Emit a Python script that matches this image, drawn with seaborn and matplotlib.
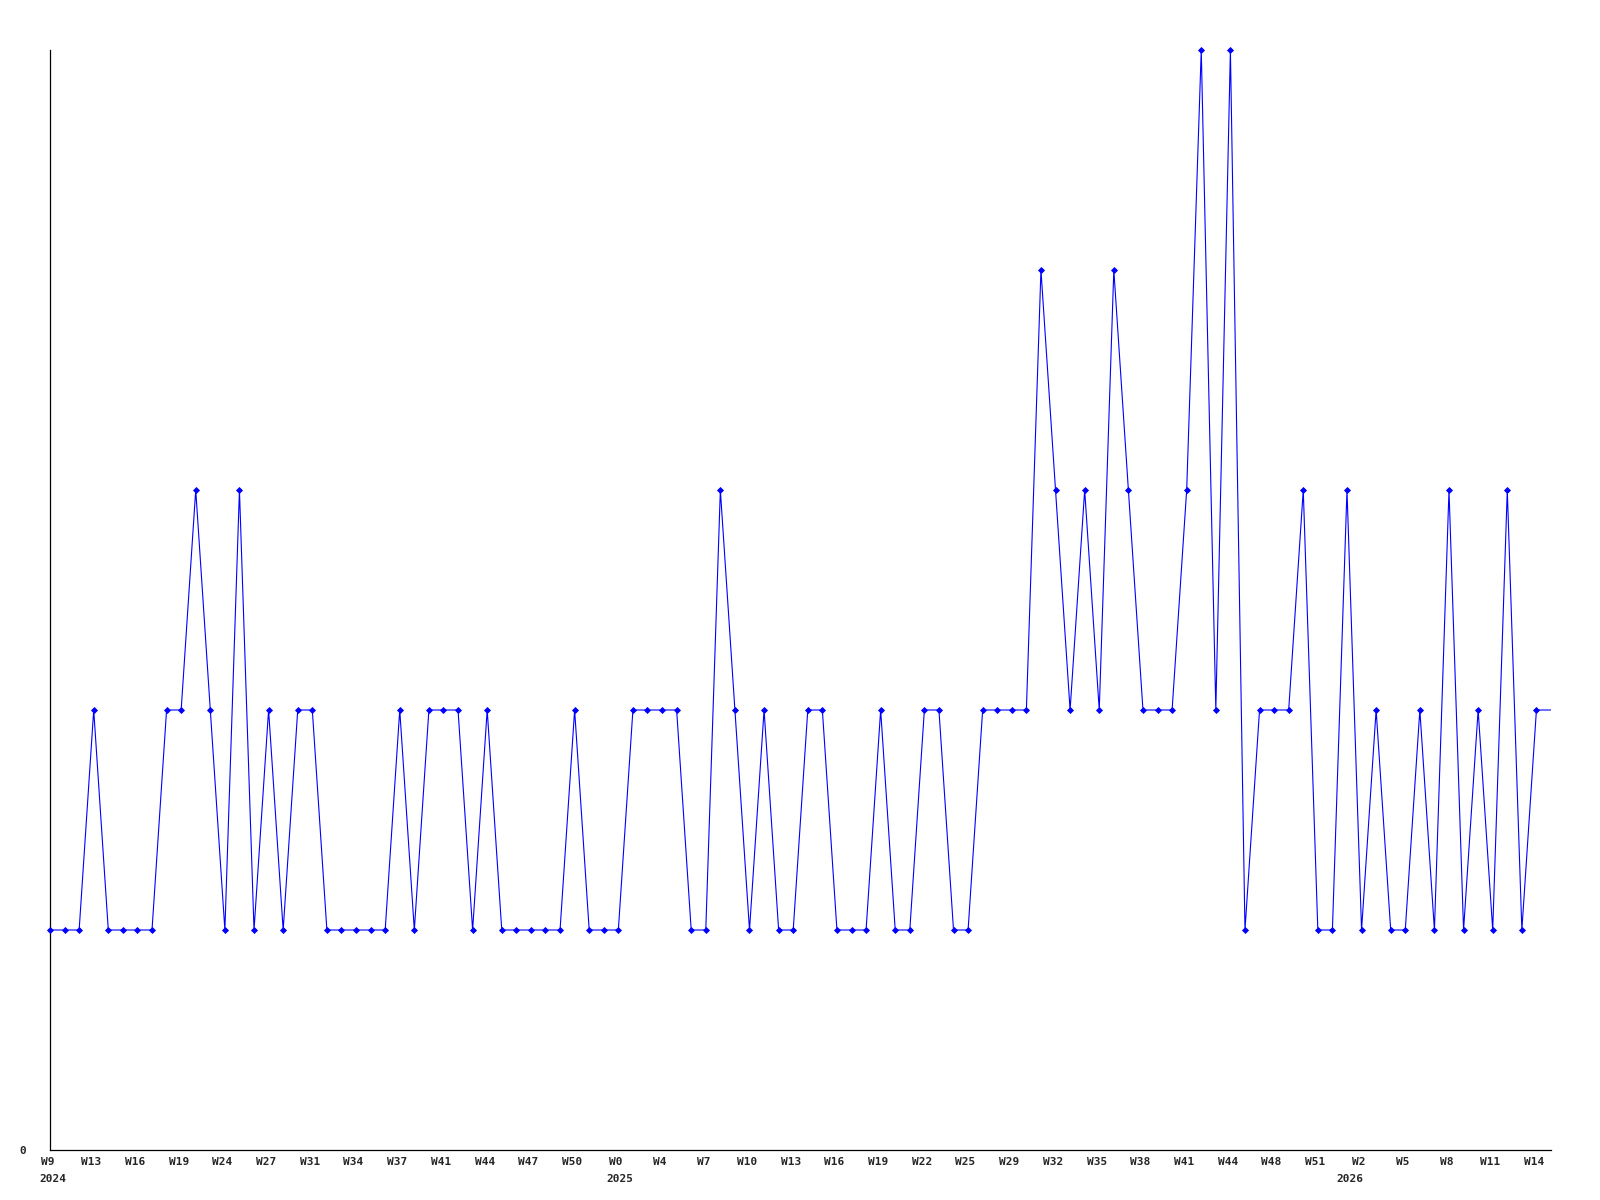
import numpy as np
import pandas as pd
import matplotlib
matplotlib.use("Agg")
import matplotlib.pyplot as plt
import matplotlib.transforms as mtransforms
import seaborn as sns

# weekly counts (last value only extends the line)
counts = [1, 1, 1, 2, 1, 1, 1, 1, 2, 2,
          3, 2, 1, 3, 1, 2, 1, 2, 2, 1,
          1, 1, 1, 1, 2, 1, 2, 2, 2, 1,
          2, 1, 1, 1, 1, 1, 2, 1, 1, 1,
          2, 2, 2, 2, 1, 1, 3, 2, 1, 2,
          1, 1, 2, 2, 1, 1, 1, 2, 1, 1,
          2, 2, 1, 1, 2, 2, 2, 2, 4, 3,
          2, 3, 2, 4, 3, 2, 2, 2, 3, 5,
          2, 5, 1, 2, 2, 2, 3, 1, 1, 3,
          1, 2, 1, 1, 2, 1, 3, 1, 2, 1,
          3, 1, 2, 2]

week_labels = ["W9", "W13", "W16", "W19", "W24", "W27", "W31", "W34", "W37",
               "W41", "W44", "W47", "W50", "W0", "W4", "W7", "W10", "W13",
               "W16", "W19", "W22", "W25", "W29", "W32", "W35", "W38", "W41",
               "W44", "W48", "W51", "W2", "W5", "W8", "W11", "W14"]
year_labels = ["2024", "2025", "2026"]
year_pos = [0.2, 39.1, 89.2]

df = pd.DataFrame({"idx": np.arange(len(counts)), "count": counts})
marked = df.iloc[:-1]

sns.set_style("white")
plt.rcParams["font.family"] = ["DejaVu Sans Mono"]

fig = plt.figure(figsize=(16, 12), dpi=100)
ax = fig.add_axes([50 / 1600, 50 / 1200, 1501 / 1600, 1100 / 1200])

sns.lineplot(data=df, x="idx", y="count", color="#0000ff", linewidth=0.8, ax=ax)
sns.scatterplot(data=marked, x="idx", y="count", color="#0000ff", marker="D",
                s=9, linewidth=0.6, edgecolor="#0000ff", ax=ax, clip_on=False,
                zorder=3)

ax.set_xlim(0, len(counts) - 1)
ax.set_ylim(0, 5)
ax.set_xlabel("")
ax.set_ylabel("")

ax.set_xticks(np.arange(0, len(counts) - 1, 3))
ax.set_xticklabels(week_labels, fontsize=8, fontweight="bold")
ax.set_yticks([0])
ax.set_yticklabels(["0"], fontsize=8, fontweight="bold")
ax.tick_params(axis="x", length=0, pad=5)
ax.tick_params(axis="y", length=0, pad=17)

# labels sit a couple of pixels left of their points in the reference
shift = mtransforms.ScaledTranslation(-2.5 / 100, 0, fig.dpi_scale_trans)
for lbl in ax.get_xticklabels():
    lbl.set_transform(lbl.get_transform() + shift)

trans = mtransforms.blended_transform_factory(ax.transData, ax.transAxes)
for pos, yr in zip(year_pos, year_labels):
    ax.text(pos, -0.026, yr, transform=trans, ha="center", va="center",
            fontsize=8, fontweight="bold")

for side in ["top", "right"]:
    ax.spines[side].set_visible(False)
for side in ["left", "bottom"]:
    ax.spines[side].set_color("black")
    ax.spines[side].set_linewidth(0.9)

fig.savefig("out.png", dpi=100, facecolor="white")
